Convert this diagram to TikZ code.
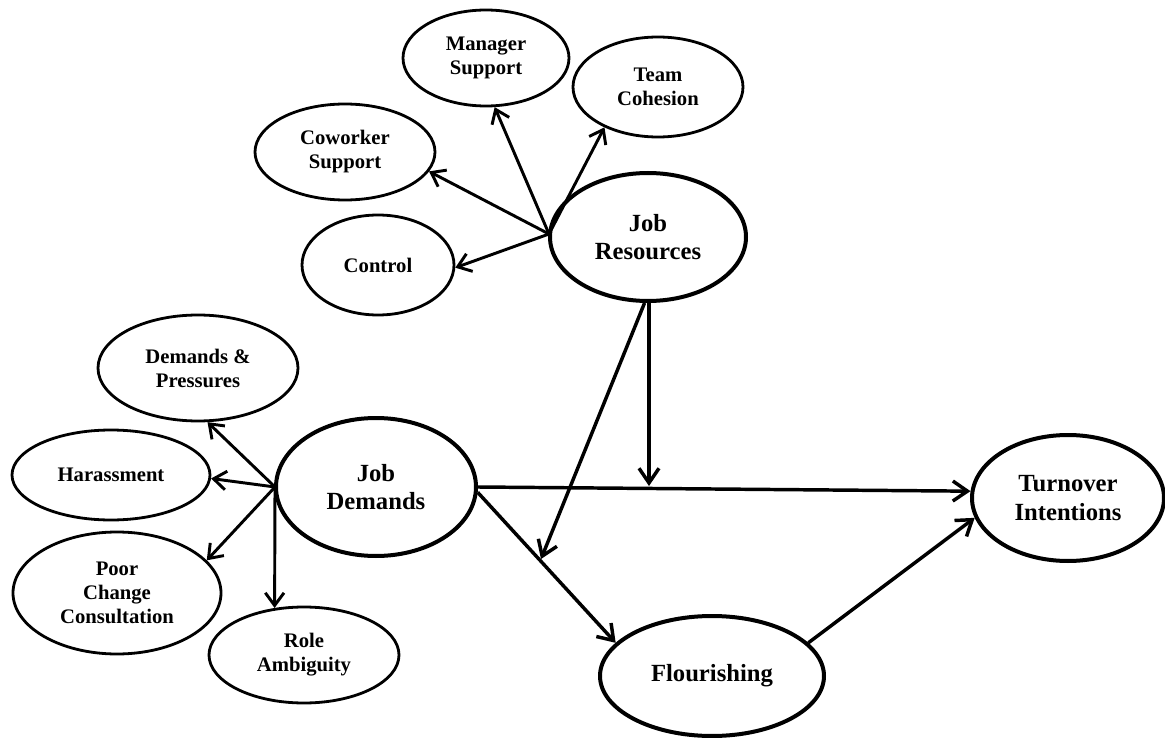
\documentclass[tikz,border=0pt]{standalone}
\usepackage{fontspec}
\setmainfont{Liberation Serif}
\usetikzlibrary{arrows.meta,shapes.geometric}
\begin{document}
\begin{tikzpicture}[x=0.75pt,y=-0.75pt,
  small/.style={ellipse,draw,line width=2.1pt,inner sep=0pt,align=center,
    font=\fontsize{15.5}{18}\selectfont\bfseries},
  big/.style={ellipse,draw,line width=3pt,inner sep=0pt,align=center,
    font=\fontsize{18.5}{21.5}\selectfont\bfseries},
  arr/.style={line width=2.2pt,-{Straight Barb[length=9.5pt,width=14pt,line width=2.2pt]}},
  marr/.style={line width=2.6pt,-{Straight Barb[length=11pt,width=15pt,line width=2.6pt]}}]
\useasboundingbox (0,0) rectangle (1165,738);
% resources side
\node[small,minimum width=124.5pt,minimum height=72pt] (ms) at (486,58) {Manager\\Support};
\node[small,minimum width=127.5pt,minimum height=75pt] (tc) at (658,87) {Team\\Cohesion};
\node[small,minimum width=135pt,minimum height=72pt] (cs) at (345,152) {Coworker\\Support};
\node[small,minimum width=114pt,minimum height=75pt] (co) at (378,265) {Control};
\node[big,minimum width=147pt,minimum height=96pt] (jr) at (648,237) {Job\\Resources};
% demands side
\node[small,minimum width=150pt,minimum height=79.5pt] (dp) at (198,368) {Demands \&\\Pressures};
\node[small,minimum width=148.5pt,minimum height=67.5pt] (ha) at (111,475) {Harassment};
\node[small,minimum width=156pt,minimum height=91.5pt] (pc) at (117,593) {Poor\\Change\\Consultation};
\node[small,minimum width=142.5pt,minimum height=72pt] (ra) at (304,655) {Role\\Ambiguity};
\node[big,minimum width=150pt,minimum height=103.5pt] (jd) at (376,487) {Job\\Demands};
% outcomes
\node[big,minimum width=144pt,minimum height=94.5pt] (ti) at (1068,498) {Turnover\\Intentions};
\node[big,minimum width=168pt,minimum height=90pt] (fl) at (712,676) {Flourishing};
% fan origins and moderation points
\coordinate (jrfan) at (549,234);
\coordinate (jdfan) at (275,487);
\coordinate (m1) at (649,486);
\coordinate (m2) at (541,559);
% resource fan
\draw[arr] (jrfan) -- (ms.-80);
\draw[arr] (jrfan) -- (tc.-143);
\draw[arr] (jrfan) -- (cs.-13);
\draw[arr] (jrfan) -- (co.-2);
% demands fan
\draw[arr] (jdfan) -- (dp.-80);
\draw[arr] (jdfan) -- (ha.-2);
\draw[arr] (jdfan) -- (pc.20);
\draw[arr] (jdfan) -- (ra.122);
% main paths
\draw[marr] (jd.east) -- (ti.176);
\draw[marr] (jd.-3) -- (fl.161);
\draw[marr] (fl.19) -- (ti.-168);
\draw[marr] (m1 |- jr.south) -- (m1);
\draw[marr] (jr.-93) -- (m2);
\end{tikzpicture}
\end{document}
